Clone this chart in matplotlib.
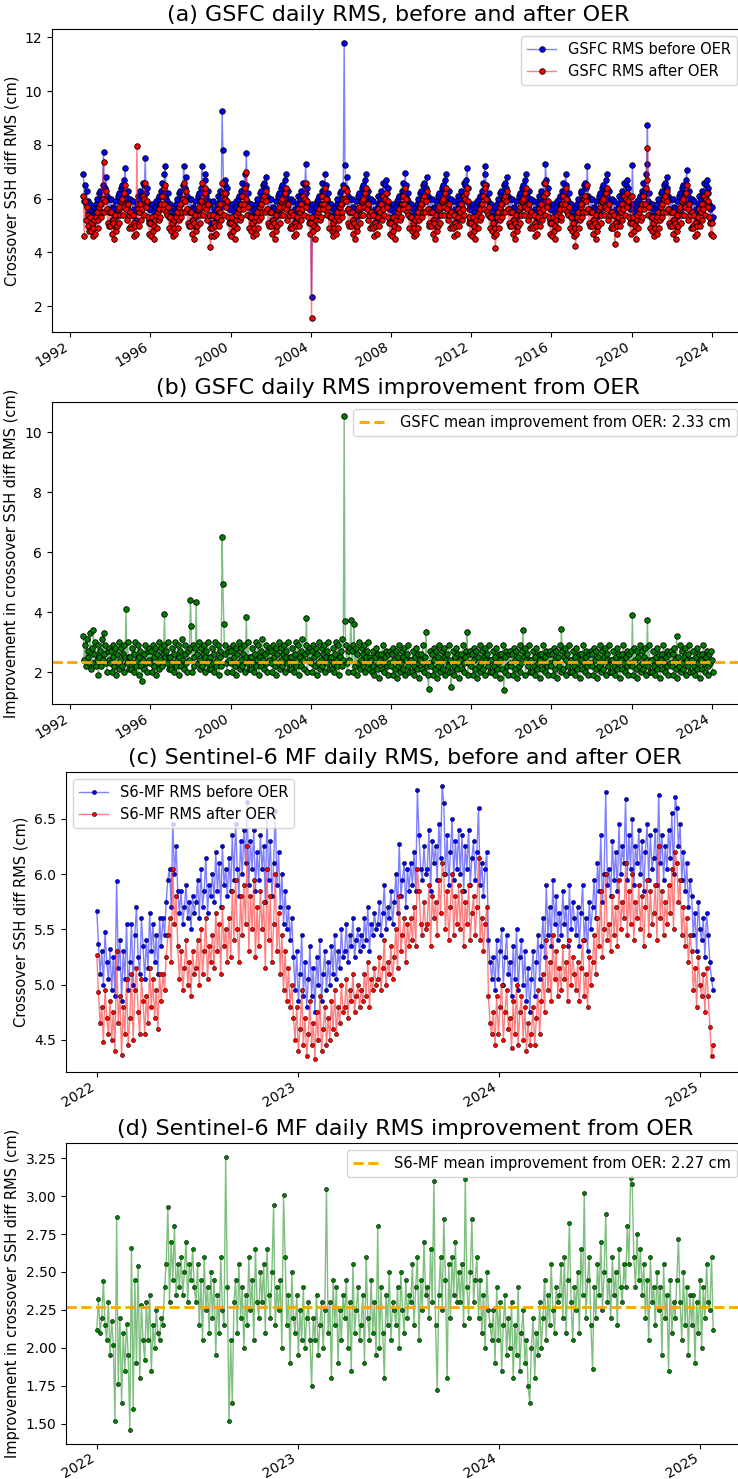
import pandas as pd
import matplotlib
matplotlib.use('Agg')
import matplotlib.pyplot as plt
import matplotlib.dates as mdates
from matplotlib.colors import to_rgba


# GSFC series: two samples per month (1st and 15th), Sep 1992 - Jan 2024
gsfc_start = '1992-09-01'

gsfc_before = [
    6.9, 5.9, 6.5, 5.8, 6.3, 5.5, 5.9, 5.4,
    5.8, 5.3, 5.6, 5.1, 5.4, 5.7, 5.2, 5.8, 6.0, 5.4, 5.7, 6.2, 6.3, 5.8, 6.0, 6.5, 7.75, 6.0, 6.4, 6.8, 6.1, 5.6, 5.5, 6.0,
    5.5, 6.0, 5.2, 5.7, 5.6, 5.0, 5.9, 5.3, 5.5, 6.1, 6.2, 5.6, 5.9, 6.4, 6.5, 5.9, 6.2, 6.7, 7.15, 6.1, 5.7, 6.3, 5.9, 5.4,
    6.0, 5.5, 5.4, 5.9, 5.1, 5.6, 5.5, 5.2, 5.8, 6.1, 5.5, 6.0, 6.3, 5.7, 6.1, 6.6, 5.9, 6.5, 7.5, 6.2, 6.4, 5.8, 5.6, 5.2,
    5.6, 5.1, 5.8, 5.3, 5.5, 5.0, 5.7, 5.9, 5.4, 6.0, 6.1, 5.7, 5.8, 6.3, 6.6, 6.1, 6.3, 6.9, 7.2, 6.0, 5.9, 6.2, 5.4, 5.8,
    5.8, 5.3, 5.6, 5.1, 5.4, 5.7, 5.2, 5.8, 6.0, 5.4, 5.7, 6.2, 6.3, 5.8, 6.0, 6.5, 7.2, 6.0, 6.4, 6.8, 6.1, 5.6, 5.5, 6.0,
    5.5, 6.0, 5.2, 5.7, 5.6, 5.0, 5.9, 5.3, 5.5, 6.1, 6.2, 5.6, 5.9, 6.4, 7.2, 5.9, 6.2, 6.7, 6.9, 6.1, 5.7, 6.3, 5.9, 5.4,
    5.8, 5.1, 5.4, 5.9, 5.1, 5.6, 5.5, 5.2, 5.8, 6.1, 5.5, 6.0, 6.3, 5.7, 9.25, 7.8, 5.9, 6.5, 6.7, 6.2, 6.4, 5.8, 5.6, 5.2,
    5.6, 5.1, 5.8, 5.3, 5.5, 5.0, 5.7, 5.9, 5.4, 6.0, 6.1, 5.7, 5.8, 6.3, 6.6, 6.1, 6.3, 6.9, 6.5, 7.7, 5.9, 6.2, 5.4, 5.8,
    5.8, 5.3, 5.6, 5.1, 5.4, 5.7, 5.2, 5.8, 6.0, 5.4, 5.7, 6.2, 6.3, 5.8, 6.0, 6.5, 6.6, 6.0, 6.4, 6.8, 6.1, 5.6, 5.5, 6.0,
    5.5, 6.0, 5.2, 5.7, 5.6, 5.0, 5.9, 5.3, 5.5, 6.1, 6.2, 5.6, 5.9, 6.4, 6.5, 5.9, 6.2, 6.7, 6.9, 6.1, 5.7, 6.3, 5.9, 5.4,
    6.0, 5.5, 5.4, 5.9, 5.1, 5.6, 5.5, 5.2, 5.8, 6.1, 5.5, 6.0, 6.3, 5.7, 6.1, 6.6, 5.9, 6.5, 7.3, 6.2, 6.4, 5.8, 5.6, 5.2,
    5.6, 2.35, 5.8, 5.3, 5.5, 5.0, 5.7, 5.9, 5.4, 6.0, 6.1, 5.7, 5.8, 6.3, 6.6, 6.1, 6.3, 6.9, 6.5, 6.0, 5.9, 6.2, 5.4, 5.8,
    5.8, 5.3, 5.6, 5.1, 5.4, 5.7, 5.2, 5.8, 6.0, 5.4, 5.7, 6.2, 6.3, 5.8, 6.0, 6.5, 11.8, 7.25, 6.4, 6.8, 6.1, 5.6, 5.5, 6.0,
    5.5, 6.0, 5.2, 5.7, 5.6, 5.0, 5.9, 5.3, 5.5, 6.1, 6.2, 5.6, 5.9, 6.4, 6.5, 5.9, 6.2, 6.7, 6.9, 6.1, 5.7, 6.3, 5.9, 5.4,
    6.0, 5.5, 5.4, 5.9, 5.1, 5.6, 5.5, 5.2, 5.8, 6.1, 5.5, 6.0, 6.3, 5.7, 6.1, 6.6, 5.9, 6.5, 6.7, 6.2, 6.4, 5.8, 5.6, 5.2,
    5.6, 5.1, 5.8, 5.3, 5.5, 5.0, 5.7, 5.9, 5.4, 6.0, 6.1, 5.7, 5.8, 6.3, 6.6, 6.1, 6.3, 6.95, 6.5, 6.0, 5.9, 6.2, 5.4, 5.8,
    5.8, 5.3, 5.6, 5.1, 5.4, 5.7, 5.2, 5.8, 6.0, 5.4, 5.7, 6.2, 6.3, 5.8, 6.0, 6.5, 6.6, 6.0, 6.4, 6.8, 6.1, 5.6, 5.5, 6.0,
    5.5, 6.0, 5.2, 5.7, 5.6, 5.0, 5.9, 5.3, 5.5, 6.1, 6.2, 5.6, 5.9, 6.4, 6.5, 5.9, 6.2, 6.7, 6.9, 6.1, 5.7, 6.3, 5.9, 5.4,
    6.0, 5.5, 5.4, 5.9, 5.1, 5.6, 5.5, 5.2, 5.8, 6.1, 5.5, 6.0, 6.3, 5.7, 6.1, 6.6, 5.9, 6.5, 6.7, 7.15, 6.4, 5.8, 5.6, 5.2,
    5.6, 5.1, 5.8, 5.3, 5.5, 5.0, 5.7, 5.9, 5.4, 6.0, 6.1, 5.7, 5.8, 6.3, 6.6, 6.1, 7.2, 6.9, 6.5, 6.0, 5.9, 6.2, 5.4, 5.8,
    5.8, 5.3, 5.6, 5.1, 5.4, 5.7, 5.2, 5.8, 6.0, 5.4, 5.7, 6.2, 6.3, 5.8, 6.0, 6.5, 6.6, 6.0, 6.4, 6.8, 6.1, 5.6, 5.5, 6.0,
    5.5, 6.0, 5.2, 5.7, 5.6, 5.0, 5.9, 5.3, 5.5, 6.1, 6.2, 5.6, 5.9, 6.4, 6.5, 5.9, 6.2, 6.7, 6.9, 6.1, 5.7, 6.3, 5.9, 5.4,
    6.0, 5.5, 5.4, 5.9, 5.1, 5.6, 5.5, 5.2, 5.8, 6.1, 5.5, 6.0, 6.3, 5.7, 6.1, 6.6, 5.9, 7.3, 6.7, 6.2, 6.4, 5.8, 5.6, 5.2,
    5.6, 5.1, 5.8, 5.3, 5.5, 5.0, 5.7, 5.9, 5.4, 6.0, 6.1, 5.7, 5.8, 6.3, 6.6, 6.1, 6.3, 6.9, 6.5, 6.0, 5.9, 6.2, 5.4, 5.8,
    5.8, 5.3, 5.6, 5.1, 5.4, 5.7, 5.2, 5.8, 6.0, 5.4, 5.7, 6.2, 6.3, 5.8, 6.0, 6.5, 6.6, 6.0, 6.4, 7.2, 6.1, 5.6, 5.5, 6.0,
    5.5, 6.0, 5.2, 5.7, 5.6, 5.0, 5.9, 5.3, 5.5, 6.1, 6.2, 5.6, 5.9, 6.4, 6.5, 5.9, 6.2, 6.7, 6.9, 6.1, 5.7, 6.3, 5.9, 5.4,
    6.0, 5.5, 5.4, 5.9, 5.1, 5.6, 5.5, 5.2, 5.8, 6.1, 5.5, 6.0, 6.3, 5.7, 6.1, 6.6, 5.9, 6.5, 6.7, 6.2, 6.4, 5.8, 5.6, 5.2,
    5.6, 7.25, 5.8, 5.3, 5.5, 5.0, 5.7, 5.9, 5.4, 6.0, 6.1, 5.7, 5.8, 6.3, 6.6, 6.1, 6.3, 6.9, 7.3, 8.75, 5.9, 6.2, 5.4, 5.8,
    5.8, 5.3, 5.6, 5.1, 5.4, 5.7, 5.2, 5.8, 6.0, 5.4, 5.7, 6.2, 6.3, 5.8, 6.0, 6.5, 6.6, 6.0, 6.4, 6.8, 6.1, 5.6, 5.5, 6.0,
    5.5, 6.0, 5.2, 5.7, 5.6, 5.0, 5.9, 5.3, 5.5, 6.1, 6.2, 5.6, 5.9, 6.4, 6.5, 5.9, 6.2, 6.7, 7.05, 6.1, 5.7, 6.3, 5.9, 5.4,
    6.0, 5.5, 5.4, 5.9, 5.1, 5.6, 5.5, 5.2, 5.8, 6.1, 5.5, 6.0, 6.3, 5.7, 6.1, 6.6, 5.9, 6.5, 6.7, 6.2, 6.4, 5.8, 5.6, 5.2,
    5.7, 5.3,
]

gsfc_after = [
    6.1, 4.6, 5.9, 5.2, 5.7, 5.0, 5.4, 4.8,
    5.3, 4.8, 5.1, 4.6, 4.9, 5.2, 4.7, 5.3, 5.5, 4.9, 5.2, 5.7, 5.8, 5.3, 5.5, 6.0, 7.35, 5.5, 5.9, 6.3, 5.6, 5.1, 5.0, 5.5,
    5.0, 5.5, 4.7, 5.2, 5.1, 4.5, 5.4, 4.8, 5.0, 5.6, 5.7, 5.1, 5.4, 5.9, 6.0, 5.4, 5.7, 6.2, 6.5, 5.6, 5.2, 5.8, 5.4, 4.9,
    5.5, 5.0, 4.9, 5.4, 4.6, 5.1, 5.0, 4.7, 7.95, 5.6, 5.0, 5.5, 5.8, 5.2, 5.6, 6.1, 5.4, 6.0, 6.6, 5.7, 5.9, 5.3, 5.1, 4.7,
    5.1, 4.6, 5.3, 4.8, 5.0, 4.5, 5.2, 5.4, 4.9, 5.5, 5.6, 5.2, 5.3, 5.8, 6.1, 5.6, 5.8, 6.4, 6.5, 5.5, 5.4, 5.7, 4.9, 5.3,
    5.3, 4.8, 5.1, 4.6, 4.9, 5.2, 4.7, 5.3, 5.5, 4.9, 5.2, 5.7, 5.8, 5.3, 5.5, 6.0, 6.6, 5.5, 5.9, 6.3, 5.6, 5.1, 5.0, 5.5,
    5.0, 5.5, 4.7, 5.2, 5.1, 4.5, 5.4, 4.8, 5.0, 5.6, 5.7, 5.1, 5.4, 5.9, 6.6, 5.4, 5.7, 6.2, 6.4, 5.6, 5.2, 5.8, 5.4, 4.9,
    4.2, 4.6, 4.9, 5.4, 4.6, 5.1, 5.0, 4.7, 5.3, 5.6, 5.0, 5.5, 5.8, 5.2, 6.6, 6.2, 5.4, 6.0, 6.2, 5.7, 5.9, 5.3, 5.1, 4.7,
    5.1, 4.6, 5.3, 4.8, 5.0, 4.5, 5.2, 5.4, 4.9, 5.5, 5.6, 5.2, 5.3, 5.8, 6.1, 5.6, 5.8, 6.4, 6.0, 7.0, 5.4, 5.7, 4.9, 5.3,
    5.3, 4.8, 5.1, 4.6, 4.9, 5.2, 4.7, 5.3, 5.5, 4.9, 5.2, 5.7, 5.8, 5.3, 5.5, 6.0, 6.1, 5.5, 5.9, 6.3, 5.6, 5.1, 5.0, 5.5,
    5.0, 5.5, 4.7, 5.2, 5.1, 4.5, 5.4, 4.8, 5.0, 5.6, 5.7, 5.1, 5.4, 5.9, 6.0, 5.4, 5.7, 6.2, 6.4, 5.6, 5.2, 5.8, 5.4, 4.9,
    5.5, 5.0, 4.9, 5.4, 4.6, 5.1, 5.0, 4.7, 5.3, 5.6, 5.0, 5.5, 5.8, 5.2, 5.6, 6.1, 5.4, 6.0, 6.6, 5.7, 5.9, 5.3, 5.1, 4.7,
    5.1, 1.55, 5.3, 4.8, 5.0, 4.5, 5.2, 5.4, 4.9, 5.5, 5.6, 5.2, 5.3, 5.8, 6.1, 5.6, 5.8, 6.4, 6.0, 5.5, 5.4, 5.7, 4.9, 5.3,
    5.3, 4.8, 5.1, 4.6, 4.9, 5.2, 4.7, 5.3, 5.5, 4.9, 5.2, 5.7, 5.8, 5.3, 5.5, 6.0, 6.4, 6.0, 5.9, 6.3, 5.6, 5.1, 5.0, 5.5,
    5.0, 5.5, 4.7, 5.2, 5.1, 4.5, 5.4, 4.8, 5.0, 5.6, 5.7, 5.1, 5.4, 5.9, 6.0, 5.4, 5.7, 6.2, 6.4, 5.6, 5.2, 5.8, 5.4, 4.9,
    5.5, 5.0, 4.9, 5.4, 4.6, 5.1, 5.0, 4.7, 5.3, 5.6, 5.0, 5.5, 5.8, 5.2, 5.6, 6.1, 5.4, 6.0, 6.2, 5.7, 5.9, 5.3, 5.1, 4.7,
    5.1, 4.6, 5.3, 4.8, 5.0, 4.5, 5.2, 5.4, 4.9, 5.5, 5.6, 5.2, 5.3, 5.8, 6.1, 5.6, 5.8, 6.4, 6.0, 5.5, 5.4, 5.7, 4.9, 5.3,
    5.3, 4.8, 5.1, 4.6, 4.9, 5.2, 4.7, 5.3, 5.5, 4.9, 5.2, 5.7, 5.8, 5.3, 5.5, 6.0, 6.1, 5.5, 5.9, 6.3, 5.6, 5.1, 5.0, 5.5,
    5.0, 5.5, 4.7, 5.2, 5.1, 4.5, 5.4, 4.8, 5.0, 5.6, 5.7, 5.1, 5.4, 5.9, 6.0, 5.4, 5.7, 6.2, 6.4, 5.6, 5.2, 5.8, 5.4, 4.9,
    5.5, 5.0, 4.9, 5.4, 4.6, 5.1, 5.0, 4.7, 5.3, 5.6, 5.0, 5.5, 5.8, 5.2, 5.6, 6.1, 5.4, 6.0, 6.2, 6.4, 5.9, 5.3, 5.1, 4.7,
    5.1, 4.6, 5.3, 4.8, 5.0, 4.5, 5.2, 5.4, 4.9, 5.5, 5.6, 5.2, 5.3, 5.8, 6.1, 5.6, 6.5, 6.4, 6.0, 5.5, 5.4, 5.7, 4.9, 5.3,
    5.3, 4.8, 5.1, 4.6, 4.9, 4.15, 4.7, 5.3, 5.5, 4.9, 5.2, 5.7, 5.8, 5.3, 5.5, 6.0, 6.1, 5.5, 5.9, 6.3, 5.6, 5.1, 5.0, 5.5,
    5.0, 5.5, 4.7, 5.2, 5.1, 4.5, 5.4, 4.8, 5.0, 5.6, 5.7, 5.1, 5.4, 5.9, 6.0, 5.4, 5.7, 6.2, 6.4, 5.6, 5.2, 5.8, 5.4, 4.9,
    5.5, 5.0, 4.9, 5.4, 4.6, 5.1, 5.0, 4.7, 5.3, 5.6, 5.0, 5.5, 5.8, 5.2, 5.6, 6.1, 5.4, 6.6, 6.2, 5.7, 5.9, 5.3, 5.1, 4.7,
    5.1, 4.6, 5.3, 4.8, 5.0, 4.5, 5.2, 5.4, 4.9, 5.5, 5.6, 5.2, 5.3, 5.8, 6.1, 5.6, 5.8, 6.4, 6.0, 5.5, 5.4, 5.7, 4.9, 5.3,
    5.3, 4.8, 5.1, 4.6, 4.9, 4.25, 4.7, 5.3, 5.5, 4.9, 5.2, 5.7, 5.8, 5.3, 5.5, 6.0, 6.1, 5.5, 5.9, 6.5, 5.6, 5.1, 5.0, 5.5,
    5.0, 5.5, 4.7, 5.2, 5.1, 4.5, 5.4, 4.8, 5.0, 5.6, 5.7, 5.1, 5.4, 5.9, 6.0, 5.4, 5.7, 6.2, 6.4, 5.6, 5.2, 5.8, 5.4, 4.9,
    5.5, 5.0, 4.9, 5.4, 4.3, 5.1, 5.0, 4.7, 5.3, 5.6, 5.0, 5.5, 5.8, 5.2, 5.6, 6.1, 5.4, 6.0, 6.2, 5.7, 5.9, 5.3, 5.1, 4.7,
    5.1, 6.1, 5.3, 4.8, 5.0, 4.5, 5.2, 5.4, 4.9, 5.5, 5.6, 5.2, 5.3, 5.8, 6.1, 5.6, 5.8, 6.4, 6.7, 7.9, 5.4, 5.7, 4.9, 5.3,
    5.3, 4.8, 5.1, 4.6, 4.9, 5.2, 4.7, 5.3, 5.5, 4.9, 5.2, 5.7, 5.8, 5.3, 5.5, 6.0, 6.1, 5.5, 5.9, 6.3, 5.6, 5.1, 5.0, 5.5,
    5.0, 5.5, 4.7, 5.2, 5.1, 4.5, 5.4, 4.8, 5.0, 5.6, 5.7, 5.1, 5.4, 5.9, 6.0, 5.4, 5.7, 6.2, 6.5, 5.6, 5.2, 5.8, 5.4, 4.9,
    5.5, 5.0, 4.9, 5.4, 4.6, 5.1, 5.0, 4.7, 5.3, 5.6, 5.0, 5.5, 5.8, 5.2, 5.6, 6.1, 5.4, 6.0, 6.2, 5.7, 5.9, 5.3, 5.1, 4.7,
    5.1, 4.6,
]

gsfc_improvement = [
    3.2, 2.4, 2.9, 2.2, 3.1, 2.5, 2.7, 2.3,
    3.3, 2.1, 2.8, 2.3, 3.4, 2.6, 3.0, 2.2, 2.4, 2.9, 1.9, 2.5, 2.7, 2.2, 3.1, 2.4, 3.3, 2.6, 2.9, 2.3, 2.0, 2.7, 2.4, 2.8,
    2.3, 2.7, 2.0, 2.9, 2.5, 2.2, 2.8, 1.9, 2.6, 2.3, 3.0, 2.1, 2.4, 2.8, 2.2, 2.6, 2.9, 2.0, 2.5, 4.1, 2.3, 3.0, 2.1, 2.5,
    2.5, 2.1, 2.8, 2.3, 2.0, 2.6, 3.0, 2.2, 2.4, 2.9, 1.9, 2.5, 2.7, 2.2, 1.7, 2.4, 2.1, 2.6, 2.9, 2.3, 2.0, 2.7, 2.4, 2.8,
    2.3, 2.7, 2.0, 2.9, 2.5, 2.2, 2.8, 1.9, 2.6, 2.3, 3.0, 2.1, 2.4, 2.8, 2.2, 2.6, 2.9, 3.95, 2.5, 2.7, 2.3, 3.0, 2.1, 2.5,
    2.5, 2.1, 2.8, 2.3, 2.0, 2.6, 3.0, 2.2, 2.4, 2.9, 1.9, 2.5, 2.7, 2.2, 3.1, 2.4, 2.1, 2.6, 2.9, 2.3, 2.0, 2.7, 2.4, 2.8,
    4.4, 3.55, 2.0, 2.9, 2.5, 2.2, 2.8, 4.35, 2.6, 2.3, 3.0, 2.1, 2.4, 2.8, 2.2, 2.6, 2.9, 2.0, 2.5, 2.7, 2.3, 3.0, 2.1, 2.5,
    2.5, 2.1, 2.8, 2.3, 2.0, 2.6, 3.0, 2.2, 2.4, 2.9, 1.9, 2.5, 2.7, 2.2, 6.5, 4.95, 3.6, 2.6, 2.9, 2.3, 2.0, 2.7, 2.4, 2.8,
    2.3, 2.7, 2.0, 2.9, 2.5, 2.2, 2.8, 1.9, 2.6, 2.3, 3.0, 2.1, 2.4, 2.8, 2.2, 2.6, 2.9, 2.0, 2.5, 3.85, 2.3, 3.0, 2.1, 2.5,
    2.5, 2.1, 2.8, 2.3, 2.0, 2.6, 3.0, 2.2, 2.4, 2.9, 1.9, 2.5, 2.7, 2.2, 3.1, 2.4, 2.1, 2.6, 2.9, 2.3, 2.0, 2.7, 2.4, 2.8,
    2.3, 2.7, 2.0, 2.9, 2.5, 2.2, 2.8, 1.9, 2.6, 2.3, 3.0, 2.1, 2.4, 2.8, 2.2, 2.6, 2.9, 2.0, 2.5, 2.7, 2.3, 3.0, 2.1, 2.5,
    2.5, 2.1, 2.8, 2.3, 2.0, 2.6, 3.0, 2.2, 2.4, 2.9, 1.9, 2.5, 2.7, 2.2, 3.1, 2.4, 2.1, 2.6, 2.9, 3.8, 2.0, 2.7, 2.4, 2.8,
    2.3, 2.7, 2.0, 2.9, 2.5, 2.2, 2.8, 1.9, 2.6, 2.3, 3.0, 2.1, 2.4, 2.8, 2.2, 2.6, 2.9, 2.0, 2.5, 2.7, 2.3, 3.0, 2.1, 2.5,
    2.5, 2.1, 2.8, 2.3, 2.0, 2.6, 3.0, 2.2, 2.4, 2.9, 1.9, 2.5, 2.7, 2.2, 3.1, 2.4, 10.55, 3.7, 2.9, 2.3, 2.0, 2.7, 2.4, 2.8,
    3.75, 2.7, 2.0, 2.9, 3.6, 2.2, 2.8, 1.9, 2.6, 2.3, 3.0, 2.1, 2.4, 2.8, 2.2, 2.6, 2.9, 2.0, 2.5, 2.7, 2.3, 3.0, 2.1, 2.5,
    2.4, 2.0, 2.7, 2.2, 1.9, 2.5, 2.8, 2.1, 2.3, 2.6, 1.8, 2.4, 2.6, 2.1, 2.9, 2.3, 2.0, 2.5, 2.7, 2.2, 1.9, 2.6, 2.3, 2.7,
    2.2, 2.6, 1.9, 2.8, 2.4, 2.1, 2.7, 1.8, 2.5, 2.2, 2.9, 2.0, 2.3, 2.7, 2.1, 2.5, 2.8, 1.9, 2.4, 2.6, 2.2, 2.9, 2.0, 2.4,
    2.4, 2.0, 2.7, 2.2, 1.9, 2.5, 2.8, 2.1, 2.3, 2.6, 1.8, 2.4, 2.6, 2.1, 2.9, 2.3, 2.0, 2.5, 3.35, 2.2, 1.9, 1.45, 2.3, 2.7,
    2.2, 2.6, 1.9, 2.8, 2.4, 2.1, 2.7, 1.8, 2.5, 2.2, 2.9, 2.0, 2.3, 2.7, 2.1, 2.5, 2.8, 1.9, 2.4, 2.6, 2.2, 2.9, 2.0, 2.4,
    1.5, 2.0, 2.7, 2.2, 1.9, 2.5, 2.8, 2.1, 2.3, 2.6, 1.8, 2.4, 2.6, 2.1, 2.9, 2.3, 2.0, 2.5, 2.7, 3.35, 1.9, 2.6, 2.3, 2.7,
    2.2, 2.6, 1.9, 2.8, 2.4, 2.1, 2.7, 1.8, 2.5, 2.2, 2.9, 2.0, 2.3, 2.7, 2.1, 2.5, 2.8, 1.9, 2.4, 2.6, 2.2, 2.9, 2.0, 2.4,
    2.4, 2.0, 2.7, 2.2, 1.9, 2.5, 2.8, 2.1, 2.3, 2.6, 1.8, 2.4, 2.6, 2.1, 2.9, 1.4, 2.0, 2.5, 2.7, 2.2, 1.9, 2.6, 2.3, 2.7,
    2.2, 2.6, 1.9, 2.8, 2.4, 2.1, 2.7, 1.8, 2.5, 2.2, 2.9, 2.0, 2.3, 2.7, 3.4, 2.5, 2.8, 1.9, 2.4, 2.6, 2.2, 2.9, 2.0, 2.4,
    2.4, 2.0, 2.7, 2.2, 1.9, 2.5, 2.8, 2.1, 2.3, 2.6, 1.8, 2.4, 2.6, 2.1, 2.9, 2.3, 2.0, 2.5, 2.7, 2.2, 1.9, 2.6, 2.3, 2.7,
    2.2, 2.6, 1.9, 2.8, 2.4, 2.1, 2.7, 1.8, 2.5, 2.2, 2.9, 2.0, 3.45, 2.7, 2.1, 2.5, 2.8, 1.9, 2.4, 2.6, 2.2, 2.9, 2.0, 2.4,
    2.4, 2.0, 2.7, 2.2, 1.9, 2.5, 2.8, 2.1, 2.3, 2.6, 1.8, 2.4, 2.6, 2.1, 2.9, 2.3, 2.0, 2.5, 2.7, 2.2, 1.9, 2.6, 2.3, 2.7,
    2.2, 2.6, 1.9, 2.8, 2.4, 2.1, 2.7, 1.8, 2.5, 2.2, 2.9, 2.0, 2.3, 2.7, 2.1, 2.5, 2.8, 1.9, 2.4, 2.6, 2.2, 2.9, 2.0, 2.4,
    2.4, 2.0, 2.7, 2.2, 1.9, 2.5, 2.8, 2.1, 2.3, 2.6, 1.8, 2.4, 2.6, 2.1, 2.9, 2.3, 2.0, 2.5, 2.7, 2.2, 1.9, 2.6, 2.3, 2.7,
    2.2, 3.9, 1.9, 2.8, 2.4, 2.1, 2.7, 1.8, 2.5, 2.2, 2.9, 2.0, 2.3, 2.7, 2.1, 2.5, 2.8, 1.9, 2.4, 3.75, 2.2, 2.9, 2.0, 2.4,
    2.4, 2.0, 2.7, 2.2, 1.9, 2.5, 2.8, 2.1, 2.3, 2.6, 1.8, 2.4, 2.6, 2.1, 2.9, 2.3, 2.0, 2.5, 2.7, 2.2, 1.9, 2.6, 2.3, 2.7,
    2.2, 2.6, 1.9, 2.8, 2.4, 2.1, 3.2, 1.8, 2.5, 2.2, 2.9, 2.0, 2.3, 2.7, 2.1, 2.5, 2.8, 1.9, 2.4, 2.6, 2.2, 2.9, 2.0, 2.4,
    2.4, 2.0, 2.7, 2.2, 1.9, 2.5, 2.8, 2.1, 2.3, 2.6, 1.8, 2.4, 2.6, 2.1, 2.9, 2.3, 2.0, 2.5, 2.7, 2.2, 1.9, 2.6, 2.3, 2.7,
    2.4, 2.0,
]
gsfc_mean_improvement = 2.33

# Sentinel-6 MF series: one sample every 3 days, Jan 2022 - Jan 2025
s6_start = '2022-01-01'

s6_before = [
    5.67, 5.37, 5.10, 5.30, 5.00, 5.48, 5.20, 5.05, 5.32, 4.95,
    5.25, 4.90, 5.94, 5.15, 5.40, 4.85, 5.30, 5.05, 5.55, 4.95,
    5.20, 5.55, 5.00, 5.45, 5.70, 5.25, 5.10, 5.60, 5.35, 5.05,
    5.40, 5.15, 5.65, 5.30, 5.55, 5.20, 5.45, 5.10, 5.60, 5.35,
    5.60, 5.45, 5.75, 5.95, 6.05, 5.70, 6.45, 6.00, 6.25, 5.85,
    5.65, 5.85, 5.55, 5.70, 5.90, 5.60, 5.75, 5.50, 5.80, 5.65,
    5.75, 5.95, 5.60, 6.05, 5.70, 5.85, 6.15, 5.65, 5.90, 5.80,
    6.00, 5.75, 6.20, 5.85, 6.10, 5.70, 6.25, 5.90, 6.05, 5.80,
    6.15, 5.85, 6.35, 5.95, 6.45, 6.05, 5.80, 6.30, 6.00, 6.40,
    6.10, 6.65, 5.90, 6.30, 6.05, 6.40, 5.85, 6.20, 5.95, 6.35,
    6.05, 6.25, 5.75, 6.55, 5.95, 6.30, 5.80, 6.10, 6.57, 5.90,
    6.20, 5.70, 6.00, 5.55, 5.85, 5.50, 5.70, 5.40, 5.60, 5.25,
    4.95, 5.30, 4.85, 5.10, 5.45, 4.90, 5.20, 4.80, 5.05, 5.35,
    4.90, 5.15, 4.75, 5.25, 5.00, 5.40, 4.85, 5.10, 5.30, 4.95,
    5.20, 5.00, 5.35, 5.10, 5.45, 5.05, 5.30, 5.15, 5.50, 5.25,
    5.30, 5.55, 5.20, 5.45, 5.35, 5.60, 5.25, 5.40, 5.50, 5.30,
    5.45, 5.35, 5.60, 5.40, 5.70, 5.30, 5.55, 5.45, 5.65, 5.50,
    5.55, 5.75, 5.45, 5.65, 5.90, 5.50, 5.70, 5.60, 5.85, 5.55,
    5.75, 6.00, 5.65, 6.27, 5.80, 5.95, 6.10, 5.70, 6.05, 5.85,
    6.10, 5.90, 6.20, 5.85, 6.76, 6.35, 6.05, 5.95, 6.25, 6.00,
    6.05, 6.40, 5.85, 6.30, 6.10, 6.25, 5.95, 6.45, 6.15, 6.80,
    6.64, 6.00, 6.35, 5.90, 6.20, 6.50, 5.95, 6.30, 6.05, 6.40,
    6.00, 6.35, 5.85, 6.25, 6.05, 6.40, 5.90, 6.15, 6.30, 5.95,
    6.20, 6.60, 5.90, 6.10, 5.80, 6.05, 6.20, 5.40, 5.20, 5.05,
    5.25, 4.95, 5.40, 5.05, 5.30, 5.50, 5.00, 5.25, 5.45, 5.10,
    5.20, 4.90, 5.35, 5.05, 5.50, 4.95, 5.25, 5.40, 5.00, 5.30,
    4.85, 5.15, 4.75, 5.05, 5.30, 4.90, 5.20, 5.45, 5.05, 5.35,
    5.60, 5.25, 5.90, 5.45, 5.70, 5.35, 5.95, 5.55, 5.80, 5.40,
    5.65, 5.45, 5.85, 5.55, 5.70, 5.35, 5.90, 5.50, 5.75, 5.60,
    5.45, 5.70, 5.35, 5.65, 5.90, 5.40, 5.60, 5.30, 5.75, 5.50,
    5.70, 5.95, 5.60, 6.10, 5.85, 6.35, 5.75, 6.00, 6.74, 5.90,
    6.05, 5.80, 6.30, 5.95, 6.20, 5.85, 6.45, 6.00, 6.25, 6.10,
    6.68, 5.95, 6.35, 6.05, 6.50, 5.90, 6.25, 6.10, 6.40, 6.00,
    6.30, 5.85, 6.20, 6.45, 5.95, 6.35, 6.05, 6.15, 6.40, 5.90,
    6.72, 6.10, 6.35, 5.95, 6.25, 6.05, 6.40, 6.15, 6.55, 6.00,
    6.70, 6.60, 6.25, 6.45, 5.95, 6.20, 5.85, 6.10, 5.70, 5.95,
    5.80, 5.45, 5.65, 5.30, 5.75, 5.50, 5.40, 5.60, 5.25, 5.65,
    5.45, 5.20, 5.05, 4.95,
]

s6_after = [
    5.27, 4.93, 4.65, 4.80, 4.48, 4.95, 4.70, 4.55, 4.85, 4.50,
    4.75, 4.40, 5.30, 4.65, 4.90, 4.36, 4.80, 4.55, 5.05, 4.45,
    4.70, 5.10, 4.50, 4.95, 5.15, 4.75, 4.55, 5.05, 4.85, 4.55,
    4.90, 4.65, 5.15, 4.80, 5.05, 4.70, 4.95, 4.60, 5.10, 4.85,
    5.10, 4.95, 5.25, 5.45, 5.60, 5.20, 6.05, 5.55, 5.80, 5.35,
    5.05, 5.30, 4.95, 5.15, 5.40, 5.00, 5.20, 4.90, 5.30, 5.10,
    5.15, 5.40, 5.00, 5.50, 5.10, 5.30, 5.60, 5.05, 5.35, 5.20,
    5.45, 5.15, 5.65, 5.30, 5.55, 5.10, 5.70, 5.35, 5.50, 5.20,
    5.60, 5.25, 5.85, 5.40, 5.95, 5.50, 5.20, 5.80, 5.45, 5.90,
    5.55, 6.25, 5.30, 5.80, 5.50, 5.95, 5.25, 5.70, 5.35, 5.85,
    5.50, 5.75, 5.15, 6.05, 5.40, 5.80, 5.20, 5.55, 6.00, 5.30,
    5.65, 5.10, 5.45, 4.95, 5.30, 4.85, 5.15, 4.80, 5.00, 4.70,
    4.50, 4.80, 4.40, 4.60, 4.95, 4.45, 4.70, 4.35, 4.55, 4.85,
    4.45, 4.65, 4.33, 4.75, 4.50, 4.90, 4.40, 4.60, 4.80, 4.45,
    4.70, 4.50, 4.85, 4.60, 4.95, 4.55, 4.80, 4.65, 5.00, 4.75,
    4.80, 5.05, 4.70, 4.95, 4.85, 5.10, 4.75, 4.90, 5.00, 4.80,
    4.95, 4.85, 5.10, 4.90, 5.20, 4.80, 5.05, 4.95, 5.15, 5.00,
    5.05, 5.25, 4.95, 5.15, 5.40, 5.00, 5.20, 5.10, 5.35, 5.05,
    5.25, 5.50, 5.15, 5.80, 5.30, 5.45, 5.60, 5.20, 5.55, 5.35,
    5.60, 5.40, 5.70, 5.35, 6.05, 5.85, 5.55, 5.45, 5.75, 5.50,
    5.55, 5.90, 5.35, 5.80, 5.60, 5.75, 5.45, 5.95, 5.65, 6.10,
    6.00, 5.50, 5.85, 5.40, 5.70, 6.00, 5.45, 5.80, 5.55, 5.90,
    5.50, 5.85, 5.35, 5.75, 5.55, 5.90, 5.40, 5.65, 5.80, 5.45,
    5.70, 6.15, 5.40, 5.60, 5.30, 5.55, 5.70, 4.90, 4.65, 4.55,
    4.75, 4.45, 4.90, 4.55, 4.80, 5.00, 4.50, 4.75, 4.95, 4.60,
    4.70, 4.43, 4.85, 4.55, 5.00, 4.45, 4.75, 4.90, 4.50, 4.80,
    4.40, 4.65, 4.45, 4.55, 4.80, 4.45, 4.70, 4.95, 4.55, 4.85,
    5.10, 4.75, 5.40, 4.95, 5.20, 4.85, 5.45, 5.05, 5.30, 4.90,
    5.15, 4.95, 5.35, 5.05, 5.20, 4.85, 5.40, 5.00, 5.25, 5.10,
    4.95, 5.20, 4.85, 5.15, 5.40, 4.90, 5.10, 4.80, 5.25, 5.00,
    5.20, 5.45, 5.10, 5.60, 5.35, 5.85, 5.25, 5.50, 6.00, 5.40,
    5.55, 5.30, 5.80, 5.45, 5.70, 5.35, 5.95, 5.50, 5.75, 5.60,
    6.10, 5.45, 5.85, 5.55, 6.00, 5.40, 5.75, 5.60, 5.90, 5.50,
    5.80, 5.35, 5.70, 5.95, 5.45, 5.85, 5.55, 5.65, 5.90, 5.40,
    6.25, 5.60, 5.85, 5.45, 5.75, 5.55, 5.90, 5.65, 6.05, 5.50,
    6.20, 6.10, 5.75, 5.95, 5.45, 5.70, 5.35, 5.60, 5.20, 5.45,
    5.30, 4.95, 5.15, 4.80, 5.25, 5.00, 4.90, 5.10, 4.75, 5.15,
    4.90, 4.62, 4.35, 4.45,
]

s6_improvement = [
    2.12, 2.32, 2.10, 2.20, 2.44, 2.15, 2.05, 2.30, 1.95, 2.18,
    2.02, 1.52, 2.86, 1.76, 2.20, 1.64, 2.10, 1.85, 2.16, 1.95,
    1.46, 2.66, 1.60, 2.45, 1.90, 2.54, 1.80, 2.28, 2.05, 1.92,
    2.30, 2.05, 2.35, 1.85, 2.15, 2.00, 2.25, 2.10, 2.05, 2.20,
    2.15, 2.40, 2.55, 2.93, 2.30, 2.70, 2.45, 2.80, 2.35, 2.55,
    2.40, 2.60, 2.35, 2.50, 2.70, 2.30, 2.55, 2.45, 2.65, 2.40,
    2.30, 2.55, 2.15, 2.45, 2.05, 2.60, 2.25, 2.40, 2.10, 2.50,
    2.20, 2.45, 1.95, 2.35, 2.10, 2.60, 2.25, 2.15, 3.26, 2.40,
    1.52, 2.05, 1.64, 2.30, 2.45, 2.10, 2.55, 2.20, 2.40, 2.00,
    2.35, 2.15, 2.60, 2.25, 2.45, 2.05, 2.65, 2.30, 2.20, 2.50,
    2.30, 2.55, 2.10, 2.65, 2.35, 2.20, 2.50, 2.94, 2.15, 2.40,
    2.25, 2.45, 2.00, 3.01, 2.60, 2.15, 2.35, 1.90, 2.50, 2.20,
    2.10, 2.35, 1.95, 2.25, 2.05, 2.40, 2.00, 2.20, 2.30, 2.05,
    1.75, 2.20, 2.05, 2.35, 1.95, 2.15, 2.30, 2.00, 2.25, 3.05,
    2.10, 2.30, 1.80, 2.45, 2.15, 2.40, 1.90, 2.25, 2.05, 2.35,
    2.20, 2.45, 2.00, 2.30, 1.85, 2.55, 2.10, 2.25, 2.40, 2.05,
    2.15, 2.35, 1.90, 2.60, 2.20, 2.05, 2.45, 2.10, 2.30, 1.95,
    2.80, 2.00, 2.40, 2.10, 1.80, 2.35, 2.15, 2.50, 2.05, 2.30,
    2.25, 2.15, 2.40, 2.00, 2.50, 2.25, 2.10, 2.45, 2.20, 2.35,
    2.30, 2.55, 2.15, 2.40, 2.60, 2.05, 2.45, 2.25, 2.70, 2.35,
    2.40, 2.20, 2.65, 2.30, 3.10, 2.15, 1.72, 2.35, 2.60, 2.25,
    2.85, 2.45, 1.80, 2.55, 2.20, 2.60, 2.35, 2.70, 2.30, 2.50,
    2.30, 2.55, 2.15, 3.11, 2.40, 2.20, 2.50, 2.85, 2.30, 2.45,
    2.60, 2.20, 2.45, 2.10, 2.35, 2.00, 2.50, 2.25, 2.15, 2.05,
    2.25, 1.90, 2.40, 2.05, 2.30, 1.85, 2.15, 2.35, 1.95, 2.20,
    2.00, 2.30, 1.80, 2.15, 1.95, 2.40, 1.85, 2.10, 2.25, 1.90,
    2.05, 1.75, 1.64, 2.00, 2.20, 1.80, 2.10, 1.95, 2.30, 2.00,
    2.20, 2.45, 2.05, 2.35, 2.15, 2.55, 2.25, 2.10, 2.40, 2.30,
    2.35, 2.55, 2.20, 2.60, 2.10, 2.45, 2.82, 2.30, 2.05, 2.40,
    2.25, 2.50, 2.10, 2.65, 2.35, 3.02, 2.20, 2.45, 2.60, 2.15,
    1.86, 2.40, 2.20, 2.55, 2.35, 2.70, 2.25, 2.50, 2.88, 2.30,
    2.45, 2.20, 2.60, 2.35, 2.50, 2.15, 2.65, 2.40, 2.30, 2.55,
    2.40, 2.80, 2.55, 3.12, 3.08, 2.60, 2.40, 2.75, 2.45, 2.65,
    2.35, 2.55, 2.20, 2.45, 2.05, 2.60, 2.30, 2.40, 2.15, 2.50,
    2.25, 2.40, 1.95, 2.55, 2.20, 2.35, 1.85, 2.45, 2.10, 2.30,
    2.20, 2.45, 2.72, 2.30, 2.05, 2.50, 2.15, 2.40, 1.95, 2.35,
    2.15, 2.35, 1.90, 2.30, 2.10, 2.45, 2.00, 2.40, 2.20, 2.55,
    2.30, 2.25, 2.60, 2.12,
]
s6_mean_improvement = 2.27


def gsfc_dates(values):
    return pd.date_range(gsfc_start, periods=len(values), freq='SMS')


def s6_dates(values):
    return pd.date_range(s6_start, periods=len(values), freq='3D')


def draw_series(ax, dates, values, color, ms, mew, label=None):
    ax.plot(dates, values, '-o', color=to_rgba(color, 0.5), lw=1.0,
            ms=ms, mfc=color, mec='black', mew=mew, label=label)


def style_axes(ax, title, ylabel, step):
    ax.set_title(title, fontsize=16)
    ax.set_ylabel(ylabel, fontsize=10.5)
    ax.xaxis.set_major_locator(mdates.YearLocator(step))
    ax.xaxis.set_major_formatter(mdates.DateFormatter('%Y'))
    ax.tick_params(labelsize=10)
    ax.tick_params(axis='x', pad=2)
    for lab in ax.get_xticklabels():
        lab.set_rotation(30)
        lab.set_ha('right')


fig = plt.figure(figsize=(7.38, 14.79), dpi=100)

ax1 = fig.add_axes([0.0705, 0.7755, 0.9377, 0.2049])
ax2 = fig.add_axes([0.0705, 0.5240, 0.9377, 0.2042])
ax3 = fig.add_axes([0.0894, 0.2750, 0.9187, 0.2030])
ax4 = fig.add_axes([0.0894, 0.0240, 0.9187, 0.2032])

# (a)
draw_series(ax1, gsfc_dates(gsfc_before), gsfc_before, 'blue', 4, 0.6, 'GSFC RMS before OER')
draw_series(ax1, gsfc_dates(gsfc_after), gsfc_after, 'red', 4, 0.6, 'GSFC RMS after OER')
style_axes(ax1, '(a) GSFC daily RMS, before and after OER', 'Crossover SSH diff RMS (cm)', 4)
ax1.legend(loc='upper right', fontsize=10.5)

# (b)
draw_series(ax2, gsfc_dates(gsfc_improvement), gsfc_improvement, 'green', 4, 0.6)
ax2.axhline(gsfc_mean_improvement, color='orange', ls='--', lw=2,
            label=f'GSFC mean improvement from OER: {gsfc_mean_improvement:.2f} cm')
style_axes(ax2, '(b) GSFC daily RMS improvement from OER',
           'Improvement in crossover SSH diff RMS (cm)', 4)
ax2.legend(loc='upper right', fontsize=10.5)

# (c)
draw_series(ax3, s6_dates(s6_before), s6_before, 'blue', 3, 0.35, 'S6-MF RMS before OER')
draw_series(ax3, s6_dates(s6_after), s6_after, 'red', 3, 0.35, 'S6-MF RMS after OER')
style_axes(ax3, '(c) Sentinel-6 MF daily RMS, before and after OER', 'Crossover SSH diff RMS (cm)', 1)
ax3.legend(loc='upper left', fontsize=10.5)

# (d)
draw_series(ax4, s6_dates(s6_improvement), s6_improvement, 'green', 3, 0.35)
ax4.axhline(s6_mean_improvement, color='orange', ls='--', lw=2,
            label=f'S6-MF mean improvement from OER: {s6_mean_improvement:.2f} cm')
style_axes(ax4, '(d) Sentinel-6 MF daily RMS improvement from OER',
           'Improvement in crossover SSH diff RMS (cm)', 1)
ax4.legend(loc='upper right', fontsize=10.5)

fig.savefig('out.png', dpi=100)
